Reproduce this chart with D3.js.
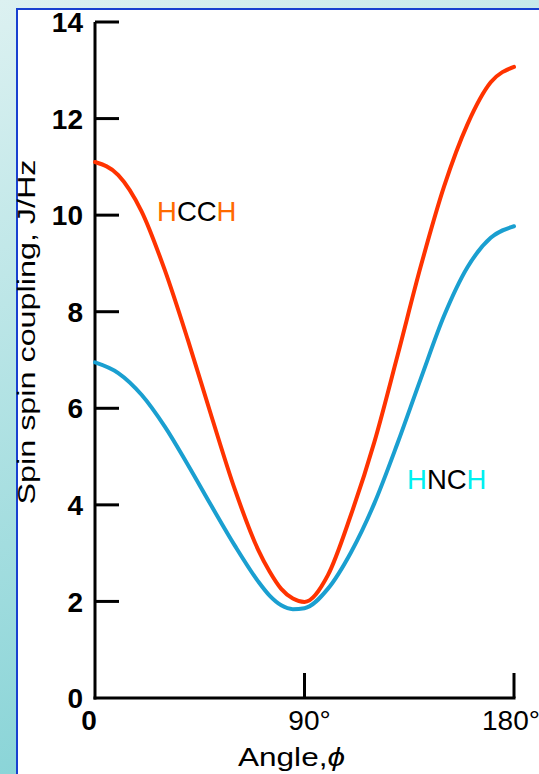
<!DOCTYPE html>
<html>
<head>
<meta charset="utf-8">
<script src="https://cdn.jsdelivr.net/npm/d3@7"></script>
<style>
  html, body { margin: 0; padding: 0; overflow: hidden; background: #fff; }
  svg { display: block; }
</style>
</head>
<body>
<svg id="chart" width="539" height="774"></svg>
<script>
// Dihedral angle (degrees) and vicinal spin-spin coupling constants (Hz)
const angles = [0, 10, 20, 30, 40, 50, 60, 70, 75, 80, 85, 90, 100, 110, 120, 130, 140, 150, 160, 170, 180];
const hcchJ  = [11.1, 10.83, 10.08, 8.86, 7.4, 5.84, 4.33, 3.08, 2.62, 2.26, 2.06, 1.99, 2.54, 3.8, 5.3, 7.1, 8.95, 10.6, 11.88, 12.75, 13.07];
const hnchJ  = [6.95, 6.73, 6.28, 5.62, 4.82, 3.98, 3.16, 2.42, 2.12, 1.92, 1.84, 1.86, 2.26, 3.02, 4.03, 5.28, 6.62, 7.92, 8.92, 9.53, 9.77];

const yTickValues = [0, 2, 4, 6, 8, 10, 12, 14];
const xTickValues = [0, 90, 180];
const xTickLabels = ["0", "90°", "180°"];

const svg = d3.select("#chart");
const W = 539, H = 774;

// Backdrop: teal gradient with a white, blue-edged panel
const defs = svg.append("defs");
const grad = defs.append("linearGradient")
  .attr("id", "bg").attr("x1", "0").attr("y1", "0").attr("x2", "0.25").attr("y2", "1");
grad.append("stop").attr("offset", "0").attr("stop-color", "#dcf1f1");
grad.append("stop").attr("offset", "1").attr("stop-color", "#86d3d6");
svg.append("rect").attr("width", W).attr("height", H).attr("fill", "url(#bg)");
svg.append("rect")
  .attr("x", 17).attr("y", 9).attr("width", W + 10).attr("height", H + 10)
  .attr("fill", "#ffffff").attr("stroke", "#1840d0").attr("stroke-width", 2);

// Scales
const x = d3.scaleLinear().domain([0, 180]).range([95, 514]);
const y = d3.scaleLinear().domain([0, 14]).range([698, 22]);

// Axis lines
const axisG = svg.append("g").attr("stroke", "#000").attr("stroke-width", 3).attr("fill", "none");
axisG.append("line").attr("x1", x(0)).attr("x2", x(0)).attr("y1", y(14)).attr("y2", y(0) + 1.5);
axisG.append("line").attr("x1", x(0) - 1.5).attr("x2", x(180) + 1.5).attr("y1", y(0)).attr("y2", y(0));

// Y ticks point inward (to the right)
axisG.selectAll(".yt").data(yTickValues.filter(v => v > 0)).join("line")
  .attr("x1", x(0)).attr("x2", x(0) + 24)
  .attr("y1", d => y(d)).attr("y2", d => y(d));

// X ticks point upward
axisG.selectAll(".xt").data(xTickValues.filter(v => v > 0)).join("line")
  .attr("x1", d => x(d)).attr("x2", d => x(d))
  .attr("y1", y(0)).attr("y2", y(0) - 25);

const font = "'Liberation Sans', Arial, Helvetica, sans-serif";

// Y tick labels
svg.append("g").selectAll("text").data(yTickValues).join("text")
  .attr("x", x(0) - 12).attr("y", d => y(d)).attr("dy", "0.36em")
  .attr("text-anchor", "end")
  .attr("font-family", font).attr("font-weight", "bold").attr("font-size", 28)
  .attr("fill", "#000")
  .text(d => d);

// X tick labels
svg.append("g").selectAll("text").data(xTickValues).join("text")
  .attr("x", (d, i) => x(d) + (i === 0 ? -6 : i === 1 ? 5 : 0))
  .attr("y", 730)
  .attr("text-anchor", (d, i) => i === 2 ? "start" : "middle")
  .attr("dx", (d, i) => i === 2 ? -32 : 0)
  .attr("font-family", font)
  .attr("font-weight", (d, i) => i === 0 ? "bold" : "normal")
  .attr("font-size", 28)
  .attr("fill", "#000")
  .text((d, i) => xTickLabels[i]);

// Axis titles
svg.append("text")
  .attr("transform", "translate(35,332) rotate(-90)")
  .attr("text-anchor", "middle")
  .attr("font-family", font).attr("font-size", 23).attr("fill", "#000")
  .attr("textLength", 345).attr("lengthAdjust", "spacingAndGlyphs")
  .text("Spin spin coupling, J/Hz");

const xt = svg.append("text")
  .attr("x", 238).attr("y", 766)
  .attr("font-family", font).attr("font-size", 26).attr("fill", "#000")
  .attr("textLength", 107).attr("lengthAdjust", "spacingAndGlyphs");
xt.append("tspan").text("Angle,");
xt.append("tspan").attr("font-style", "italic").text("ϕ");

// Curves: monotone cubic through the read-off values
const line = d3.line()
  .x(d => x(d[0])).y(d => y(d[1]))
  .curve(d3.curveMonotoneX);

const series = [
  { values: hnchJ, color: "#1a9fd0" },
  { values: hcchJ, color: "#ff3300" }
];
svg.append("g").selectAll("path").data(series).join("path")
  .attr("d", s => line(angles.map((a, i) => [a, s.values[i]])))
  .attr("fill", "none")
  .attr("stroke", s => s.color)
  .attr("stroke-width", 4)
  .attr("stroke-linecap", "round");

// Series labels with coloured hydrogen atoms
function molLabel(parts, px, py) {
  const t = svg.append("text").attr("x", px).attr("y", py)
    .attr("font-family", font).attr("font-size", 27.5);
  parts.forEach(p => t.append("tspan").attr("fill", p[1]).text(p[0]));
}
molLabel([["H", "#ff6a00"], ["CC", "#000"], ["H", "#ff6a00"]], 157, 221);
molLabel([["H", "#00f0f0"], ["NC", "#000"], ["H", "#00f0f0"]], 407, 489);
</script>
</body>
</html>
